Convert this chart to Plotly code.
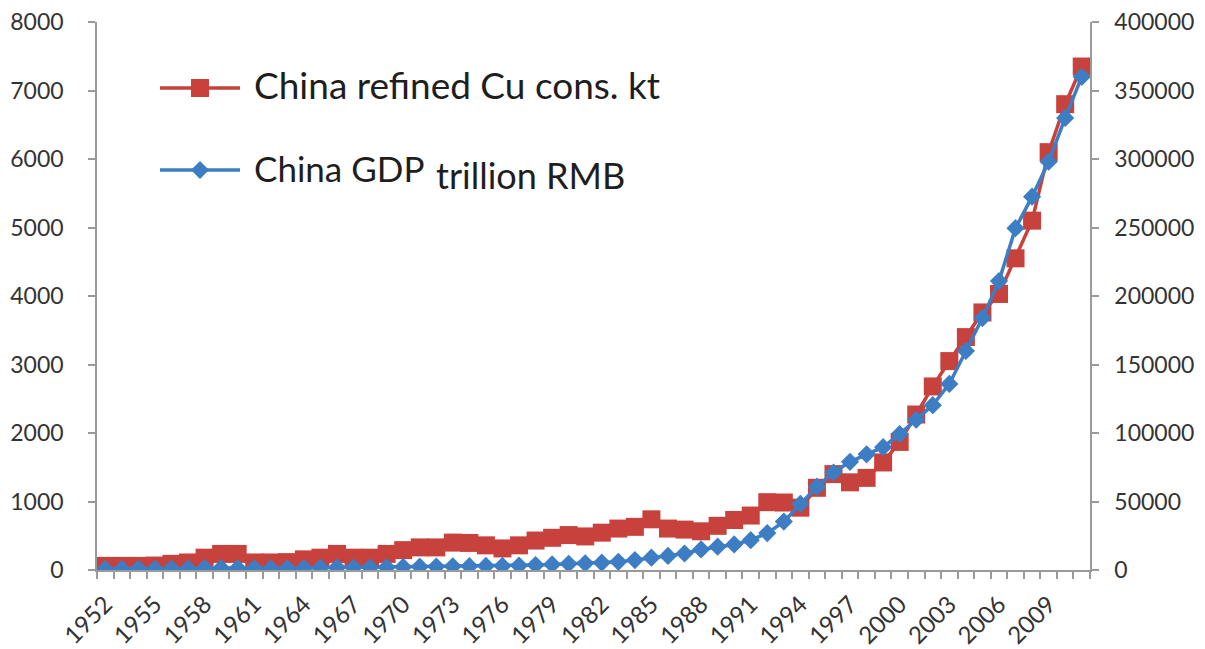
import plotly.graph_objects as go

# Years on the category axis
years = list(range(1952, 2012))

# China refined copper consumption, kt (left axis)
cu_kt = [60, 60, 60, 65, 90, 110, 180, 235, 235, 110,
         110, 115, 155, 180, 235, 180, 180, 235, 290, 330,
         330, 400, 395, 360, 315, 360, 430, 470, 510, 490,
         545, 605, 630, 740, 605, 590, 565, 645, 730, 795,
         990, 985, 910, 1200, 1400, 1280, 1345, 1570, 1870, 2270,
         2680, 3050, 3400, 3760, 4030, 4550, 5100, 6100, 6800, 7350]

# China GDP (right axis)
gdp = [680, 820, 860, 910, 1030, 1070, 1310, 1440, 1460, 1220,
       1150, 1230, 1450, 1720, 1870, 1770, 1720, 1940, 2250, 2430,
       2520, 2720, 2790, 3000, 2940, 3200, 3650, 4060, 4550, 4890,
       5320, 5960, 7210, 9020, 10280, 12060, 15040, 16990, 18670, 21780,
       26920, 35330, 48200, 60790, 71180, 78970, 84400, 89680, 99220, 109660,
       120330, 135820, 159880, 183870, 210870, 249530, 272500, 298000, 330000, 360000]

label_years = list(range(1952, 2010, 3))

RED = "#c8423d"
BLUE = "#3c7dc4"
AXIS = "#9a9a9a"
FONT = "Lato"
TXT = "#333333"

fig = go.Figure()
fig.add_trace(go.Scatter(
    x=years, y=cu_kt, name="China refined Cu cons. kt", mode="lines+markers",
    line=dict(color=RED, width=3.5),
    marker=dict(symbol="square", size=18, color=RED),
    yaxis="y", showlegend=False))
fig.add_trace(go.Scatter(
    x=years, y=gdp, name="China GDP trillion RMB", mode="lines+markers",
    line=dict(color=BLUE, width=3.5),
    marker=dict(symbol="diamond", size=14, color=BLUE),
    yaxis="y2", showlegend=False))

# Plot area in pixels: x 97..1090, y 22..570
L, R, T, B = 97, 1090, 22, 570
W, H = R - L, B - T


def px(xp):
    return (xp - L) / W


def py(yp):
    return (B - yp) / H


shapes = []
annotations = []

# Legend entry 1: red line with square
shapes.append(dict(type="line", xref="paper", yref="paper",
                   x0=px(160), x1=px(240), y0=py(88), y1=py(88),
                   line=dict(color=RED, width=3.5)))
shapes.append(dict(type="rect", xref="paper", yref="paper",
                   x0=px(191), x1=px(209), y0=py(97), y1=py(79),
                   line=dict(width=0), fillcolor=RED))
annotations.append(dict(text="China refined Cu cons. kt", xref="paper", yref="paper",
                        x=px(252), y=py(84), xanchor="left", yanchor="middle",
                        showarrow=False, font=dict(family=FONT, size=37, color="#1e1e1e")))

# Legend entry 2: blue line with diamond
shapes.append(dict(type="line", xref="paper", yref="paper",
                   x0=px(160), x1=px(240), y0=py(170), y1=py(170),
                   line=dict(color=BLUE, width=3.5)))
d = 9
shapes.append(dict(type="path", xref="paper", yref="paper",
                   path=f"M {px(200)} {py(170 - d)} L {px(200 + d)} {py(170)} "
                        f"L {px(200)} {py(170 + d)} L {px(200 - d)} {py(170)} Z",
                   line=dict(width=0), fillcolor=BLUE))
annotations.append(dict(text="China GDP", xref="paper", yref="paper",
                        x=px(252), y=py(168), xanchor="left", yanchor="middle",
                        showarrow=False, font=dict(family=FONT, size=35, color="#1e1e1e")))
annotations.append(dict(text="trillion RMB", xref="paper", yref="paper",
                        x=px(434), y=py(175), xanchor="left", yanchor="middle",
                        showarrow=False, font=dict(family=FONT, size=36, color="#1e1e1e")))

fig.update_layout(
    width=1205, height=649,
    margin=dict(l=L, r=1205 - R, t=T, b=649 - B, autoexpand=False),
    paper_bgcolor="white", plot_bgcolor="white",
    font=dict(family=FONT, size=23, color=TXT),
    shapes=shapes, annotations=annotations,
    xaxis=dict(
        range=[1951.5, 2011.5], tickmode="array", tickvals=label_years,
        ticktext=[str(y) for y in label_years], tickangle=-45, ticks="",
        showline=True, linecolor=AXIS, linewidth=1.5, showgrid=False, zeroline=False,
        automargin=False, ticklabelstandoff=9,
        minor=dict(ticks="outside", tick0=1951.5, dtick=1, ticklen=7,
                   tickcolor=AXIS, tickwidth=1.5, showgrid=False),
        tickfont=dict(family=FONT, size=24, color=TXT)),
    yaxis=dict(
        range=[0, 8000], tickvals=list(range(0, 8001, 1000)), ticks="outside",
        ticklen=7, tickcolor=AXIS, tickwidth=1.5, showline=True, linecolor=AXIS,
        linewidth=1.5, showgrid=False, zeroline=False, ticklabelstandoff=20,
        automargin=False, tickfont=dict(family=FONT, size=23, color=TXT)),
    yaxis2=dict(
        range=[0, 400000], tickvals=list(range(0, 400001, 50000)), overlaying="y",
        side="right", ticks="outside", ticklen=7, tickcolor=AXIS, tickwidth=1.5,
        showline=True, linecolor=AXIS, linewidth=1.5, showgrid=False, zeroline=False,
        ticklabelstandoff=11, tickformat="d", automargin=False,
        tickfont=dict(family=FONT, size=23, color=TXT)),
)

fig.write_html("out.html")
